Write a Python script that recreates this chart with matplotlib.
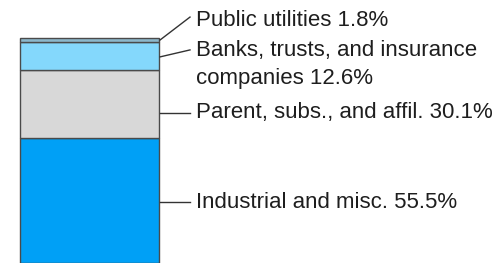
import matplotlib
matplotlib.use("Agg")
import matplotlib.pyplot as plt

# shares of holdings, bottom to top
categories = ["Industrial and misc.", "Parent, subs., and affil.",
              "Banks, trusts, and insurance\ncompanies", "Public utilities"]
shares = [55.5, 30.1, 12.6, 1.8]
colors = ["#00a0f6", "#d8d8d8", "#84d8fc", "#8cb8cc"]

# where each label sits (data units) and where its leader line bends to
label_y = [27.1, 66.7, 88.2, 108.0]
leader_start = [27.1, 66.7, 91.6, 99.1]
leader_end = [27.1, 66.7, 94.7, 109.3]

plt.rcParams['font.family'] = ['Liberation Sans', 'DejaVu Sans']

fig = plt.figure(figsize=(4.93, 2.63), dpi=100)
ax = fig.add_axes([0, 0, 1, 1])
ax.set_xlim(0, 493)
ax.set_ylim(0, 263 / 2.25)
ax.axis('off')

bottom = 0
for cat, val, col in zip(categories, shares, colors):
    ax.bar(89.5, val, width=139, bottom=bottom, color=col,
           edgecolor="#4a4a4a", linewidth=1.0)
    bottom += val

for cat, val, ly, ls, le in zip(categories, shares, label_y, leader_start, leader_end):
    ax.plot([160, 190], [ls, le], color="#333333", linewidth=1.0)
    ax.text(196, ly, f"{cat} {val}%", va='center', ha='left',
            fontsize=16, color="#1e1e1e", linespacing=1.4)

fig.savefig("out.png", dpi=100)
